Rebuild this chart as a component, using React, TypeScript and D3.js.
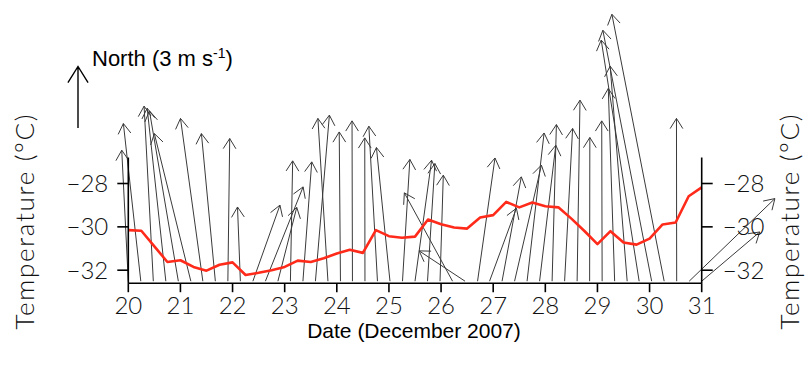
import React from 'react';
import * as d3 from 'd3';

// temperature, 6-hourly (day of December 2007, degrees C)
const tempDay = [
  20.0, 20.25, 20.5, 20.75, 21.0, 21.25, 21.5, 21.75, 22.0, 22.25, 22.5, 22.75,
  23.0, 23.25, 23.5, 23.75, 24.0, 24.25, 24.5, 24.75, 25.0, 25.25, 25.5, 25.75,
  26.0, 26.25, 26.5, 26.75, 27.0, 27.25, 27.5, 27.75, 28.0, 28.25, 28.5, 28.75,
  29.0, 29.25, 29.5, 29.75, 30.0, 30.25, 30.5, 30.75, 31.0,
];
const tempC = [
  -30.15, -30.18, -30.9, -31.62, -31.54, -31.85, -32.02, -31.75, -31.64, -32.22, -32.12, -32.0,
  -31.85, -31.56, -31.62, -31.45, -31.23, -31.06, -31.2, -30.15, -30.43, -30.5, -30.45, -29.66,
  -29.88, -30.03, -30.08, -29.57, -29.46, -28.85, -29.1, -28.88, -29.05, -29.1, -29.62, -30.19,
  -30.8, -30.2, -30.72, -30.82, -30.54, -29.89, -29.8, -28.59, -28.18,
];

// wind vectors (east / north component, m/s)
const windDay = [
  20.0, 20.24, 20.48, 20.72, 20.96, 21.2, 21.43, 21.67, 21.91, 22.15, 22.39, 22.63,
  22.87, 23.11, 23.35, 23.59, 23.83, 24.07, 24.3, 24.54, 24.78, 25.02, 25.26, 25.5,
  25.74, 25.98, 26.22, 26.46, 26.7, 26.93, 27.17, 27.41, 27.65, 27.89, 28.13, 28.37,
  28.61, 28.85, 29.09, 29.33, 29.57, 29.8, 30.04, 30.28, 30.52, 30.76, 31.0,
];
const windU = [
  -0.32, -0.85, -0.45, -0.91, -1.41, -1.78, -1.09, -0.68, 0.09, -0.14, 1.32, 1.84,
  0.92, 0.11, 0.43, 0.68, -0.49, -0.06, -0.02, -0.01, -0.42, -0.66, 0.36, 0.81,
  0.36, 0.16, -2.35, -2.24, 0.85, 1.31, 0.94, 1.31, 0.83, 0.79, 0.21, 0.39,
  0.14, 0.01, -0.02, -0.31, -0.83, -1.85, -2.38, -2.55, -0.01, 4.18, 2.83,
];
const windV = [
  6.39, 7.69, 8.54, 8.44, 8.31, 7.2, 7.94, 7.2, 6.96, 3.62, 3.71, 4.6,
  3.6, 5.87, 5.82, 8.1, 7.94, 7.28, 7.82, 6.99, 7.56, 6.52, 5.94, 5.9,
  5.74, 5.17, 4.31, 1.48, 6.01, 3.56, 5.09, 5.66, 7.23, 6.63, 7.64, 7.45,
  8.83, 7.01, 7.82, 9.4, 10.49, 11.76, 12.24, 13.02, 7.94, 4.03, 2.4,
];

const dayTicks = [20, 21, 22, 23, 24, 25, 26, 27, 28, 29, 30, 31];
const tempTicks = [-28, -30, -32];
const legendSpeed = 3;

const W = 806;
const H = 368;
const pxPerMs = 20.5;
const tickFont = "Lato, 'DejaVu Sans', sans-serif";
const labelFont = "'Liberation Sans', Arial, sans-serif";

function arrowPath(x0: number, y0: number, x1: number, y1: number, head: number, ang: number) {
  const a = Math.atan2(y1 - y0, x1 - x0);
  const b1x = x1 - head * Math.cos(a - ang);
  const b1y = y1 - head * Math.sin(a - ang);
  const b2x = x1 - head * Math.cos(a + ang);
  const b2y = y1 - head * Math.sin(a + ang);
  return `M${x0},${y0}L${x1},${y1}M${b1x},${b1y}L${x1},${y1}L${b2x},${b2y}`;
}

const App = () => {
  const x = d3.scaleLinear().domain([20, 31]).range([128.3, 701.7]);
  const y = d3.scaleLinear().domain([-32.6, -26.8]).range([283.2, 157.5]);
  const [y0, y1] = y.range();
  const [xl, xr] = x.range();
  const baseY = y0 - 2;

  const line = d3
    .line<number>()
    .x((d, i) => x(tempDay[i]))
    .y((d) => y(d));

  const headAng = (32 * Math.PI) / 180;

  return (
    <svg width={W} height={H} style={{ position: 'absolute', left: 0, top: 0, background: '#fff' }}>
      {/* wind sticks */}
      <g stroke="#3a3a3a" strokeWidth={1} fill="none">
        {windDay.map((d, i) => {
          const ox = x(d);
          const tx = ox + windU[i] * pxPerMs;
          const ty = baseY - windV[i] * pxPerMs;
          return <path key={i} d={arrowPath(ox, baseY, tx, ty, 12, headAng)} />;
        })}
      </g>

      {/* temperature */}
      <path d={line(tempC) || ''} fill="none" stroke="#ff2a1a" strokeWidth={2.6} strokeLinejoin="round" />

      {/* axes */}
      <g stroke="#000" strokeWidth={1.6} fill="none">
        <line x1={xl} x2={xr} y1={y0} y2={y0} />
        <line x1={xl} x2={xl} y1={y0} y2={y1} />
        <line x1={xr} x2={xr} y1={y0} y2={y1} />
        {dayTicks.map((d) => (
          <line key={d} x1={x(d)} x2={x(d)} y1={y0} y2={y0 + 9} />
        ))}
        {tempTicks.map((t) => (
          <g key={t}>
            <line x1={xl - 11} x2={xl} y1={y(t)} y2={y(t)} />
            <line x1={xr} x2={xr + 11} y1={y(t)} y2={y(t)} />
          </g>
        ))}
      </g>

      <g fontFamily={tickFont} fontWeight={300} fontSize={24} fill="#111">
        {dayTicks.map((d) => (
          <text key={d} x={x(d)} y={y0 + 31} textAnchor="middle">
            {d}
          </text>
        ))}
        {tempTicks.map((t) => (
          <g key={t}>
            <text x={xl - 20} y={y(t) + 8.5} textAnchor="end">
              {'\u2212' + Math.abs(t)}
            </text>
            <text x={xr + 21} y={y(t) + 8.5} textAnchor="start">
              {'\u2212' + Math.abs(t)}
            </text>
          </g>
        ))}
        <text
          transform="translate(34,222) rotate(-90)"
          textAnchor="middle"
          fontSize={26}
          textLength={215}
          lengthAdjust="spacing"
        >
          Temperature (°C)
        </text>
        <text
          transform="translate(799,222) rotate(-90)"
          textAnchor="middle"
          fontSize={26}
          textLength={215}
          lengthAdjust="spacing"
        >
          Temperature (°C)
        </text>
      </g>

      <text x={414} y={338} textAnchor="middle" fontFamily={labelFont} fontSize={21} fill="#000">
        Date (December 2007)
      </text>

      {/* scale arrow */}
      <path
        d={arrowPath(78, 128, 78, 128 - legendSpeed * pxPerMs, 19, headAng)}
        stroke="#000"
        strokeWidth={1.4}
        fill="none"
      />
      <text x={92} y={66} fontFamily={labelFont} fontSize={22} fill="#000">
        North ({legendSpeed} m s
        <tspan dy={-8} fontSize={14}>
          -1
        </tspan>
        <tspan dy={8}>)</tspan>
      </text>
    </svg>
  );
};

export default App;
